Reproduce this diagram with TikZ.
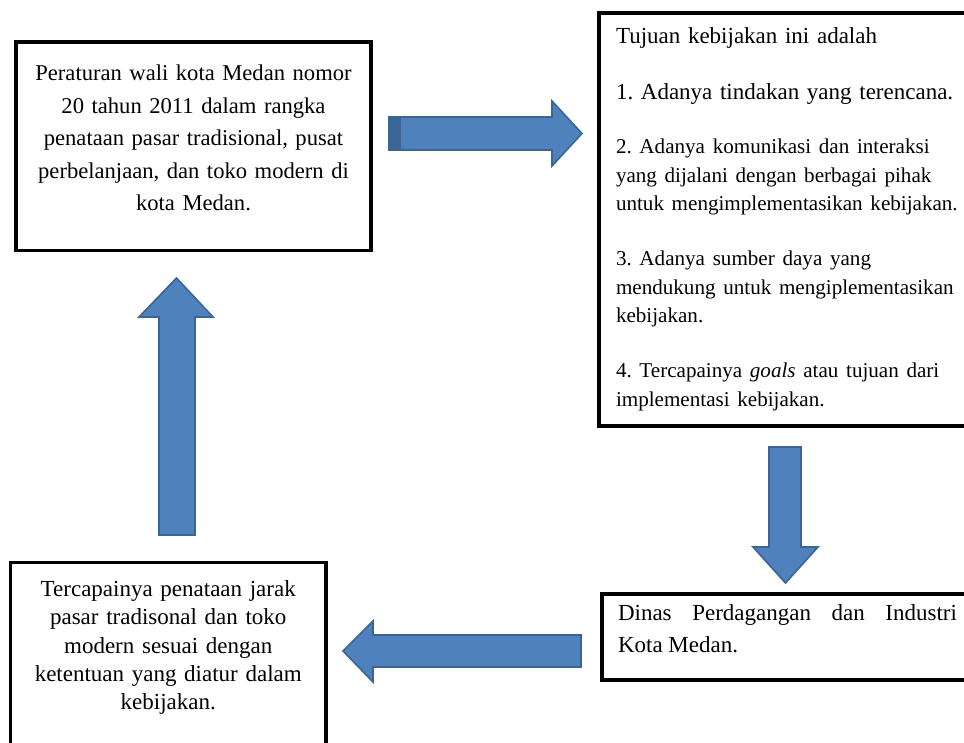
\documentclass[tikz,border=0pt]{standalone}
\usepackage{fontspec}
\setmainfont{Liberation Serif}
\usepackage{xcolor}
\usepackage{tikz}

\definecolor{arrowblue}{HTML}{4F81BD}
\definecolor{arrowedge}{HTML}{3A6594}
\frenchspacing

\begin{document}
\begin{tikzpicture}[
    x=1pt, y=-1pt,
    box/.style = {rectangle, draw=black, line width=3.2pt, outer sep=0pt, inner sep=0pt},
    blockarrow/.style = {fill=arrowblue, draw=arrowedge, line width=1.6pt, line join=miter}
]

\useasboundingbox (0,0) rectangle (964,742);
\clip (0,0) rectangle (964,742);

\node [box, anchor=north, minimum width=355pt, text width=340pt, inner ysep=23pt, align=center,
       font=\fontsize{22.6}{32.5}\selectfont] (rules) at (193.5,42)
    {Peraturan wali kota Medan nomor\\
     20 tahun 2011 dalam rangka\\
     penataan pasar tradisional, pusat\\
     perbelanjaan, dan toko modern di\\
     kota Medan.\rule[-17pt]{0pt}{0pt}};

\node [box, anchor=north west, text width=362pt, inner xsep=17pt, inner ysep=15pt,
       align=left, font=\fontsize{23}{28.5}\selectfont] (goals) at (599,13)
    {Tujuan kebijakan ini adalah\\[27.5pt]
     1. Adanya tindakan yang terencana.\\[25.5pt]
     \fontsize{21.1}{28.5}\selectfont
     2. Adanya komunikasi dan interaksi\\
     yang dijalani dengan berbagai pihak\\
     untuk mengimplementasikan kebijakan.\\[26.5pt]
     3. Adanya sumber daya yang\\
     mendukung untuk mengiplementasikan\\
     kebijakan.\\[26.5pt]
     4. Tercapainya \textit{goals} atau tujuan dari\\
     implementasi kebijakan.};

\node [box, anchor=north west, text width=339pt, inner xsep=16pt, inner ysep=10.5pt,
       align=justify, font=\fontsize{23}{32}\selectfont] (dinas) at (602,594)
    {Dinas Perdagangan dan Industri\linebreak Kota Medan.\rule[-17pt]{0pt}{0pt}};

\node [box, anchor=north, minimum width=315.5pt, text width=300pt, inner xsep=0pt, inner ysep=18pt,
       align=center, font=\fontsize{23}{28.3}\selectfont] (result) at (168.25,562.5)
    {Tercapainya penataan jarak\\
     pasar tradisonal dan toko\\
     modern sesuai dengan\\
     ketentuan yang diatur dalam\\
     kebijakan.\rule[-30pt]{0pt}{0pt}};

\draw[blockarrow] (389,117) -- (552,117) -- (552,101) -- (582,133.5) -- (552,166) -- (552,150) -- (389,150) -- cycle;
\fill[arrowedge] (389,117) rectangle (401,150);

\draw[blockarrow] (769,447) -- (801,447) -- (801,547) -- (818,547) -- (785.5,583) -- (753,547) -- (769,547) -- cycle;

\draw[blockarrow] (581,635) -- (373,635) -- (373,621) -- (343,651) -- (373,682) -- (373,667) -- (581,667) -- cycle;

\draw[blockarrow] (159,535) -- (159,317) -- (139,317) -- (176.5,278) -- (213,317) -- (195,317) -- (195,535) -- cycle;

\end{tikzpicture}
\end{document}
